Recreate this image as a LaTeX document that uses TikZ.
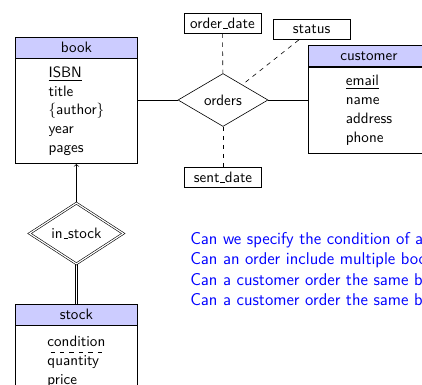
\documentclass[tikz,border=0pt]{standalone}
\usetikzlibrary{shapes.geometric,backgrounds}
% underscore drawn as a short rule on the baseline
\newcommand\usc{\leavevmode\kern.06em\vbox{\hrule width.3em}}
% dashed underline for a partial key
\newcommand\dashul[1]{\setbox0\hbox{#1}\leavevmode\vtop{\copy0\nointerlineskip\kern3pt
  \hbox to\wd0{\xleaders\hbox to .55em{\hss\vrule width .3em height .4pt\hss}\hfill}}}
\begin{document}
\begin{tikzpicture}[x=0.663pt,y=-0.663pt,
  font=\sffamily\fontsize{10}{12.4}\selectfont,
  entityhead/.style={draw, fill=blue!20, minimum width=80.4pt, minimum height=13.9pt, inner sep=0pt},
  entitybody/.style={draw, fill=white, align=left, minimum width=80.4pt, inner sep=0pt, anchor=north},
  attrbox/.style={draw, fill=white, minimum width=51pt, minimum height=13.3pt, inner sep=2pt},
  relation/.style={draw, fill=white, diamond, inner sep=0pt},
  weakrel/.style={relation, double, double distance=0.8pt},
  idline/.style={double, double distance=1pt},
  optline/.style={dashed},
]
\useasboundingbox (0,0) rectangle (422,385);
\clip (0,0) rectangle (422,385);

% entities
\node[entityhead] (bookh) at (76.4,47.5) {book};
\node[entitybody, minimum height=69.6pt] (book) at (bookh.south)
  {\underline{ISBN}\\title\\\{author\}\\year\\pages};

\node[entityhead] (customerh) at (369,55.8) {customer};
\node[entitybody, minimum height=57.5pt] (customer) at (customerh.south)
  {\underline{email}\\name\\address\\phone};

\node[entityhead] (stockh) at (76.4,314.5) {stock};
\node[entitybody, minimum height=48pt] (stock) at (stockh.south)
  {\dashul{condition}\\quantity\\price};

% relationships
\node[relation, minimum width=59.7pt, minimum height=35.1pt] (orders) at (223,100) {orders};
\node[weakrel, minimum width=62.3pt, minimum height=40.4pt] (instock) at (76.4,233.5) {in\usc stock};

% relationship attributes
\node[attrbox] (orderdate) at (222.5,23) {order\usc date};
\node[attrbox] (status) at (311.7,29.7) {status};
\node[attrbox] (sentdate) at (223,177.5) {sent\usc date};

% connectors
\begin{scope}[on background layer]
  \draw (book.east |- orders.west) -- (orders.west);
  \draw (orders.east) -- (orders.east -| customer.west);
  \draw[optline] (orderdate) -- (orders);
  \draw[optline] (status) -- (orders);
  \draw[optline] (orders) -- (sentdate);
  \draw[->] (instock.north) -- (book.south);
  \draw[idline] (instock.south) -- (stockh.north);
\end{scope}

% questions
\node[align=left, anchor=north west, inner sep=0pt, text=blue,
      font=\sffamily\fontsize{11.3}{13.6}\selectfont] (questions) at (190,232)
  {Can we specify the condition of a\\
   Can an order include multiple boo\\
   Can a customer order the same b\\
   Can a customer order the same b};
\end{tikzpicture}
\end{document}
